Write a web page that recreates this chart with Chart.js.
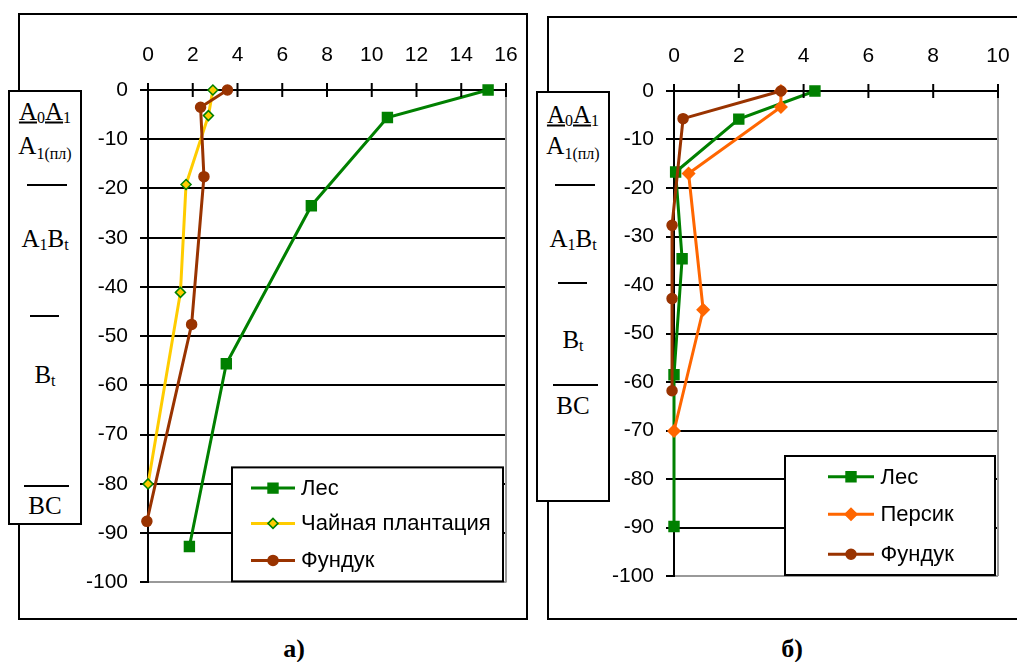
<!DOCTYPE html>
<html>
<head>
<meta charset="utf-8">
<script src="https://cdn.jsdelivr.net/npm/chart.js@4"></script>
<style>
  body { margin: 0; width: 1017px; height: 662px; overflow: hidden; background: #fff; position: relative; }
  .frame { position: absolute; border: 2px solid #000; box-sizing: border-box; }
  canvas { position: absolute; }
  .tb { position: absolute; background: #fff; border: 2px solid #000; box-sizing: border-box; width: 74px;
        font-family: "Liberation Serif", "Times New Roman", serif; font-size: 25px; color: #000; }
  .tb .t { position: absolute; left: 0; right: 0; text-align: center; line-height: 1; transform: translateY(-50%); white-space: nowrap; }
  .tb .r { position: absolute; height: 1.5px; background: #000; }
  .tb sub { font-size: 16px; vertical-align: -3px; }
  .tb .s { font-size: 16px; vertical-align: -5px; }
  .cap { position: absolute; font-family: "Liberation Serif", serif; font-weight: bold; font-size: 26px; transform: translate(-50%, -50%); }
</style>
</head>
<body>
<div class="frame" style="left:18px;top:13px;width:510px;height:607px"></div>
<div class="frame" style="left:547px;top:16px;width:520px;height:604px"></div>

<canvas id="chartA" width="436" height="587" style="left:84px;top:20px"></canvas>
<canvas id="chartB" width="417" height="581" style="left:600px;top:20px"></canvas>

<div class="tb" style="left:8px;top:90px;height:435px">
  <div class="t" style="top:20px"><u>A<sub>0</sub>A<sub>1</sub></u></div>
  <div class="t" style="top:55px">A<span class="s">1(пл)</span></div>
  <div class="r" style="top:92px;left:17px;width:40px"></div>
  <div class="t" style="top:147px">A<sub>1</sub>B<sub>t</sub></div>
  <div class="r" style="top:223px;left:20px;width:29px"></div>
  <div class="t" style="top:283px">B<sub>t</sub></div>
  <div class="r" style="top:393px;left:14px;width:45px"></div>
  <div class="t" style="top:413px">BC</div>
</div>

<div class="tb" style="left:536px;top:91px;height:411px">
  <div class="t" style="top:22px"><u>A<sub>0</sub>A<sub>1</sub></u></div>
  <div class="t" style="top:54px">A<span class="s">1(пл)</span></div>
  <div class="r" style="top:91px;left:17px;width:40px"></div>
  <div class="t" style="top:146px">A<sub>1</sub>B<sub>t</sub></div>
  <div class="r" style="top:189px;left:20px;width:29px"></div>
  <div class="t" style="top:247px">B<sub>t</sub></div>
  <div class="r" style="top:291px;left:15px;width:45px"></div>
  <div class="t" style="top:312px">BC</div>
</div>

<div class="cap" style="left:294px;top:649px">а)</div>
<div class="cap" style="left:792px;top:649px">б)</div>

<script>
// а) Лес / Чайная плантация / Фундук
var depthForestA = [0, -5.6, -23.5, -55.6, -92.7];
var valForestA   = [15.2, 10.7, 7.3, 3.5, 1.85];
var depthTeaA    = [0, -5.2, -19.2, -41.1, -80];
var valTeaA      = [2.9, 2.7, 1.7, 1.45, 0];
var depthHazelA  = [0, -3.5, -17.6, -47.6, -87.6];
var valHazelA    = [3.55, 2.35, 2.5, 1.95, -0.05];

// б) Лес / Персик / Фундук
var depthForestB = [0, -5.8, -16.7, -34.6, -58.5, -89.8];
var valForestB   = [4.35, 2.0, 0.05, 0.25, 0, 0];
var depthPeachB  = [0, -3.3, -17, -45.1, -70.1];
var valPeachB    = [3.3, 3.3, 0.45, 0.9, 0];
var depthHazelB  = [0, -5.7, -27.7, -42.8, -61.8];
var valHazelB    = [3.3, 0.28, -0.06, -0.06, -0.06];

var depthTicks = [0, -10, -20, -30, -40, -50, -60, -70, -80, -90, -100];

var GREEN = '#008000', YELLOW = '#FFCC00', BROWN = '#993300', ORANGE = '#FF6600';
var FONT = { family: '"Liberation Sans", Arial, sans-serif', size: 21 };
var LEGEND_FONT = '22px "Liberation Sans", Arial, sans-serif';

function pts(xs, ys) {
    return xs.map(function (v, i) { return { x: v, y: ys[i] }; });
}

function series(label, xs, ys, color, style, radius, fill, border, order) {
    return {
        label: label,
        data: pts(xs, ys),
        showLine: true,
        borderColor: color,
        borderWidth: 3,
        pointStyle: style,
        pointRadius: radius,
        pointHoverRadius: radius,
        pointBackgroundColor: fill,
        pointBorderColor: border,
        pointBorderWidth: 1.5,
        order: order,
        clip: false
    };
}

// tick marks crossing the top axis, gray plot edge, legend box inside the plot
var extras = {
    id: 'extras',
    afterDraw: function (chart, args, o) {
        var ctx = chart.ctx, a = chart.chartArea, x = chart.scales.x;
        ctx.save();
        ctx.strokeStyle = '#999';
        ctx.lineWidth = 2;
        ctx.beginPath();
        ctx.moveTo(a.right, a.top);
        ctx.lineTo(a.right, a.bottom);
        ctx.stroke();

        ctx.strokeStyle = '#000';
        x.ticks.forEach(function (t) {
            var px = x.getPixelForValue(t.value);
            ctx.beginPath();
            ctx.moveTo(px, a.top - 7);
            ctx.lineTo(px, a.top + 7);
            ctx.stroke();
        });

        var bx = a.right - 3 - o.w, by = a.bottom - 1 - o.h;
        ctx.fillStyle = '#fff';
        ctx.fillRect(bx, by, o.w, o.h);
        ctx.strokeStyle = '#000';
        ctx.lineWidth = 2;
        ctx.strokeRect(bx, by, o.w, o.h);

        ctx.font = LEGEND_FONT;
        ctx.textBaseline = 'middle';
        chart.data.datasets.forEach(function (ds, i) {
            var y = by + o.rows[i];
            ctx.strokeStyle = ds.borderColor;
            ctx.lineWidth = 3;
            ctx.beginPath();
            ctx.moveTo(bx + o.x1, y);
            ctx.lineTo(bx + o.x2, y);
            ctx.stroke();
            ctx.fillStyle = ds.pointBackgroundColor;
            ctx.strokeStyle = ds.pointBorderColor;
            ctx.lineWidth = ds.pointBorderWidth;
            Chart.helpers.drawPoint(ctx, { pointStyle: ds.pointStyle, radius: ds.pointRadius, borderWidth: ds.pointBorderWidth, rotation: 0 }, (bx + o.x1 + bx + o.x2) / 2, y);
            ctx.fillStyle = '#000';
            ctx.fillText(ds.label, bx + o.tx, y + 1);
        });
        ctx.restore();
    }
};

function makeChart(id, datasets, xMax, yWidth, xHeight, pad, legend) {
    return new Chart(document.getElementById(id), {
        type: 'scatter',
        data: { datasets: datasets },
        plugins: [extras],
        options: {
            responsive: false,
            animation: false,
            layout: { padding: pad },
            plugins: { legend: { display: false }, tooltip: { enabled: false }, extras: legend },
            scales: {
                x: {
                    position: 'top',
                    min: 0, max: xMax,
                    ticks: { stepSize: 2, color: '#000', font: FONT, padding: 0 },
                    grid: { display: false, drawTicks: true, tickLength: 22 },
                    border: { color: '#000', width: 2 },
                    afterFit: function (s) { s.height = xHeight; }
                },
                y: {
                    min: -100, max: 0,
                    afterBuildTicks: function (s) { s.ticks = depthTicks.map(function (v) { return { value: v }; }); },
                    ticks: { color: '#000', font: FONT, padding: 12 },
                    grid: {
                        color: function (c) { return c.tick && c.tick.value === -100 ? '#999' : '#000'; },
                        tickColor: '#000',
                        lineWidth: 2,
                        tickLength: 8
                    },
                    border: { color: '#000', width: 2 },
                    afterFit: function (s) { s.width = yWidth; }
                }
            }
        }
    });
}

makeChart('chartA', [
    series('Лес', valForestA, depthForestA, GREEN, 'rect', 7, GREEN, GREEN, 3),
    series('Чайная плантация', valTeaA, depthTeaA, YELLOW, 'rectRot', 5, YELLOW, GREEN, 2),
    series('Фундук', valHazelA, depthHazelA, BROWN, 'circle', 5, BROWN, BROWN, 1)
], 16, 64, 70, { left: 0, right: 14, top: 0, bottom: 18 },
   { w: 271, h: 114, x1: 19, x2: 63, tx: 69, rows: [20.7, 56, 93] });

makeChart('chartB', [
    series('Лес', valForestB, depthForestB, GREEN, 'rect', 7, GREEN, GREEN, 3),
    series('Персик', valPeachB, depthPeachB, ORANGE, 'rectRot', 6, ORANGE, ORANGE, 2),
    series('Фундук', valHazelB, depthHazelB, BROWN, 'circle', 5, BROWN, BROWN, 1)
], 10, 74, 71, { left: 0, right: 19, top: 0, bottom: 25 },
   { w: 210, h: 119, x1: 43, x2: 89, tx: 95.5, rows: [20.7, 58.3, 98.3] });
</script>
</body>
</html>
